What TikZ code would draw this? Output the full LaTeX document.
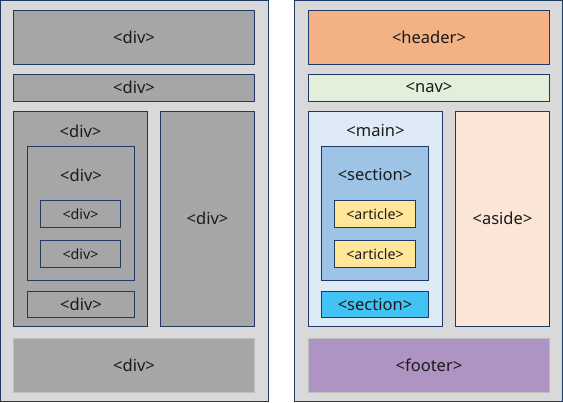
\documentclass[tikz,border=0pt]{standalone}
\usepackage{fontspec}
\setmainfont{Noto Sans}
\definecolor{bordc}{HTML}{1F3864}
\definecolor{panelc}{HTML}{D9D9D9}
\definecolor{greyc}{HTML}{A6A6A6}
\definecolor{headc}{HTML}{F4B183}
\definecolor{navc}{HTML}{E2EFDA}
\definecolor{mainc}{HTML}{DEEBF7}
\definecolor{asidec}{HTML}{FBE5D6}
\definecolor{secc}{HTML}{9DC3E6}
\definecolor{artc}{HTML}{FFE699}
\definecolor{sectwoc}{HTML}{42C3F4}
\definecolor{footc}{HTML}{AE94C2}
\definecolor{textc}{HTML}{1A1A1A}
\definecolor{footbord}{HTML}{BFBFBF}
\begin{document}
\begin{tikzpicture}[x=1pt,y=-1pt,
  box/.style={draw=bordc, line width=0.9pt, inner sep=0pt, outer sep=0pt, anchor=north west, text=textc, font=\fontsize{16.5}{19}\selectfont},
  smallbox/.style={box, font=\fontsize{14.2}{17}\selectfont},
  lbl/.style={inner sep=0pt, text=textc, font=\fontsize{16.5}{19}\selectfont}]
\useasboundingbox (0,0) rectangle (563,403);
% panels
\node[box, fill=panelc, minimum width=267.5pt, minimum height=401pt] (lp) at (0.5,0.5) {};
\node[box, fill=panelc, minimum width=268pt, minimum height=401pt] (rp) at (294.3,0.5) {};
% left
\node[box, fill=greyc, minimum width=241.4pt, minimum height=54pt] (ltop) at (13.3,10.3) {\raisebox{-1.5pt}{<div>}};
\node[box, fill=greyc, minimum width=241.4pt, minimum height=27pt] (lnav) at (13.3,74.3) {\raisebox{-1.5pt}{<div>}};
\node[box, fill=greyc, minimum width=134.4pt, minimum height=215pt] (lmain) at (13.3,111.3) {};
\node[lbl] (lmainl) at (80.5,131) {<div>};
\node[box, fill=greyc, minimum width=94.4pt, minimum height=215pt] (laside) at (160.3,111.3) {\raisebox{-1.5pt}{<div>}};
\node[box, fill=greyc, minimum width=107.4pt, minimum height=134pt] (lsec) at (27.3,146.3) {};
\node[lbl] (lsecl) at (81,175) {<div>};
\node[smallbox, fill=greyc, minimum width=80.4pt, minimum height=27pt] (lart1) at (40.3,200.3) {\raisebox{-1pt}{<div>}};
\node[smallbox, fill=greyc, minimum width=80.4pt, minimum height=27pt] (lart2) at (40.3,240.3) {\raisebox{-1pt}{<div>}};
\node[box, fill=greyc, minimum width=107.4pt, minimum height=26pt] (lsec2) at (27.3,291.3) {\raisebox{-1pt}{<div>}};
\node[box, draw=footbord, fill=greyc, minimum width=241.4pt, minimum height=54pt] (lfoot) at (13.3,338.3) {\raisebox{-1.5pt}{<div>}};
% right
\node[box, fill=headc, minimum width=241.4pt, minimum height=54pt] (rtop) at (308.3,10.3) {\raisebox{-1.5pt}{<header>}};
\node[box, fill=navc, minimum width=241.4pt, minimum height=27pt] (rnav) at (308.3,74.3) {\raisebox{-1.5pt}{<nav>}};
\node[box, fill=mainc, minimum width=134.4pt, minimum height=215pt] (rmain) at (308.3,111.3) {};
\node[lbl] (rmainl) at (375.5,131) {<main>};
\node[box, fill=asidec, minimum width=94.4pt, minimum height=215pt] (raside) at (455.3,111.3) {\raisebox{-1.5pt}{<aside>}};
\node[box, fill=secc, minimum width=107.4pt, minimum height=134pt] (rsec) at (321.3,146.3) {};
\node[lbl] (rsecl) at (375,175) {<section>};
\node[smallbox, fill=artc, minimum width=81.4pt, minimum height=27pt] (rart1) at (334.3,200.3) {\raisebox{-1pt}{<article>}};
\node[smallbox, fill=artc, minimum width=81.4pt, minimum height=27pt] (rart2) at (334.3,240.3) {\raisebox{-1pt}{<article>}};
\node[box, fill=sectwoc, minimum width=107.4pt, minimum height=26pt] (rsec2) at (321.3,291.3) {\raisebox{-1pt}{<section>}};
\node[box, draw=footbord, fill=footc, minimum width=241.4pt, minimum height=54pt] (rfoot) at (308.3,338.3) {\raisebox{-1.5pt}{<footer>}};
\end{tikzpicture}
\end{document}
